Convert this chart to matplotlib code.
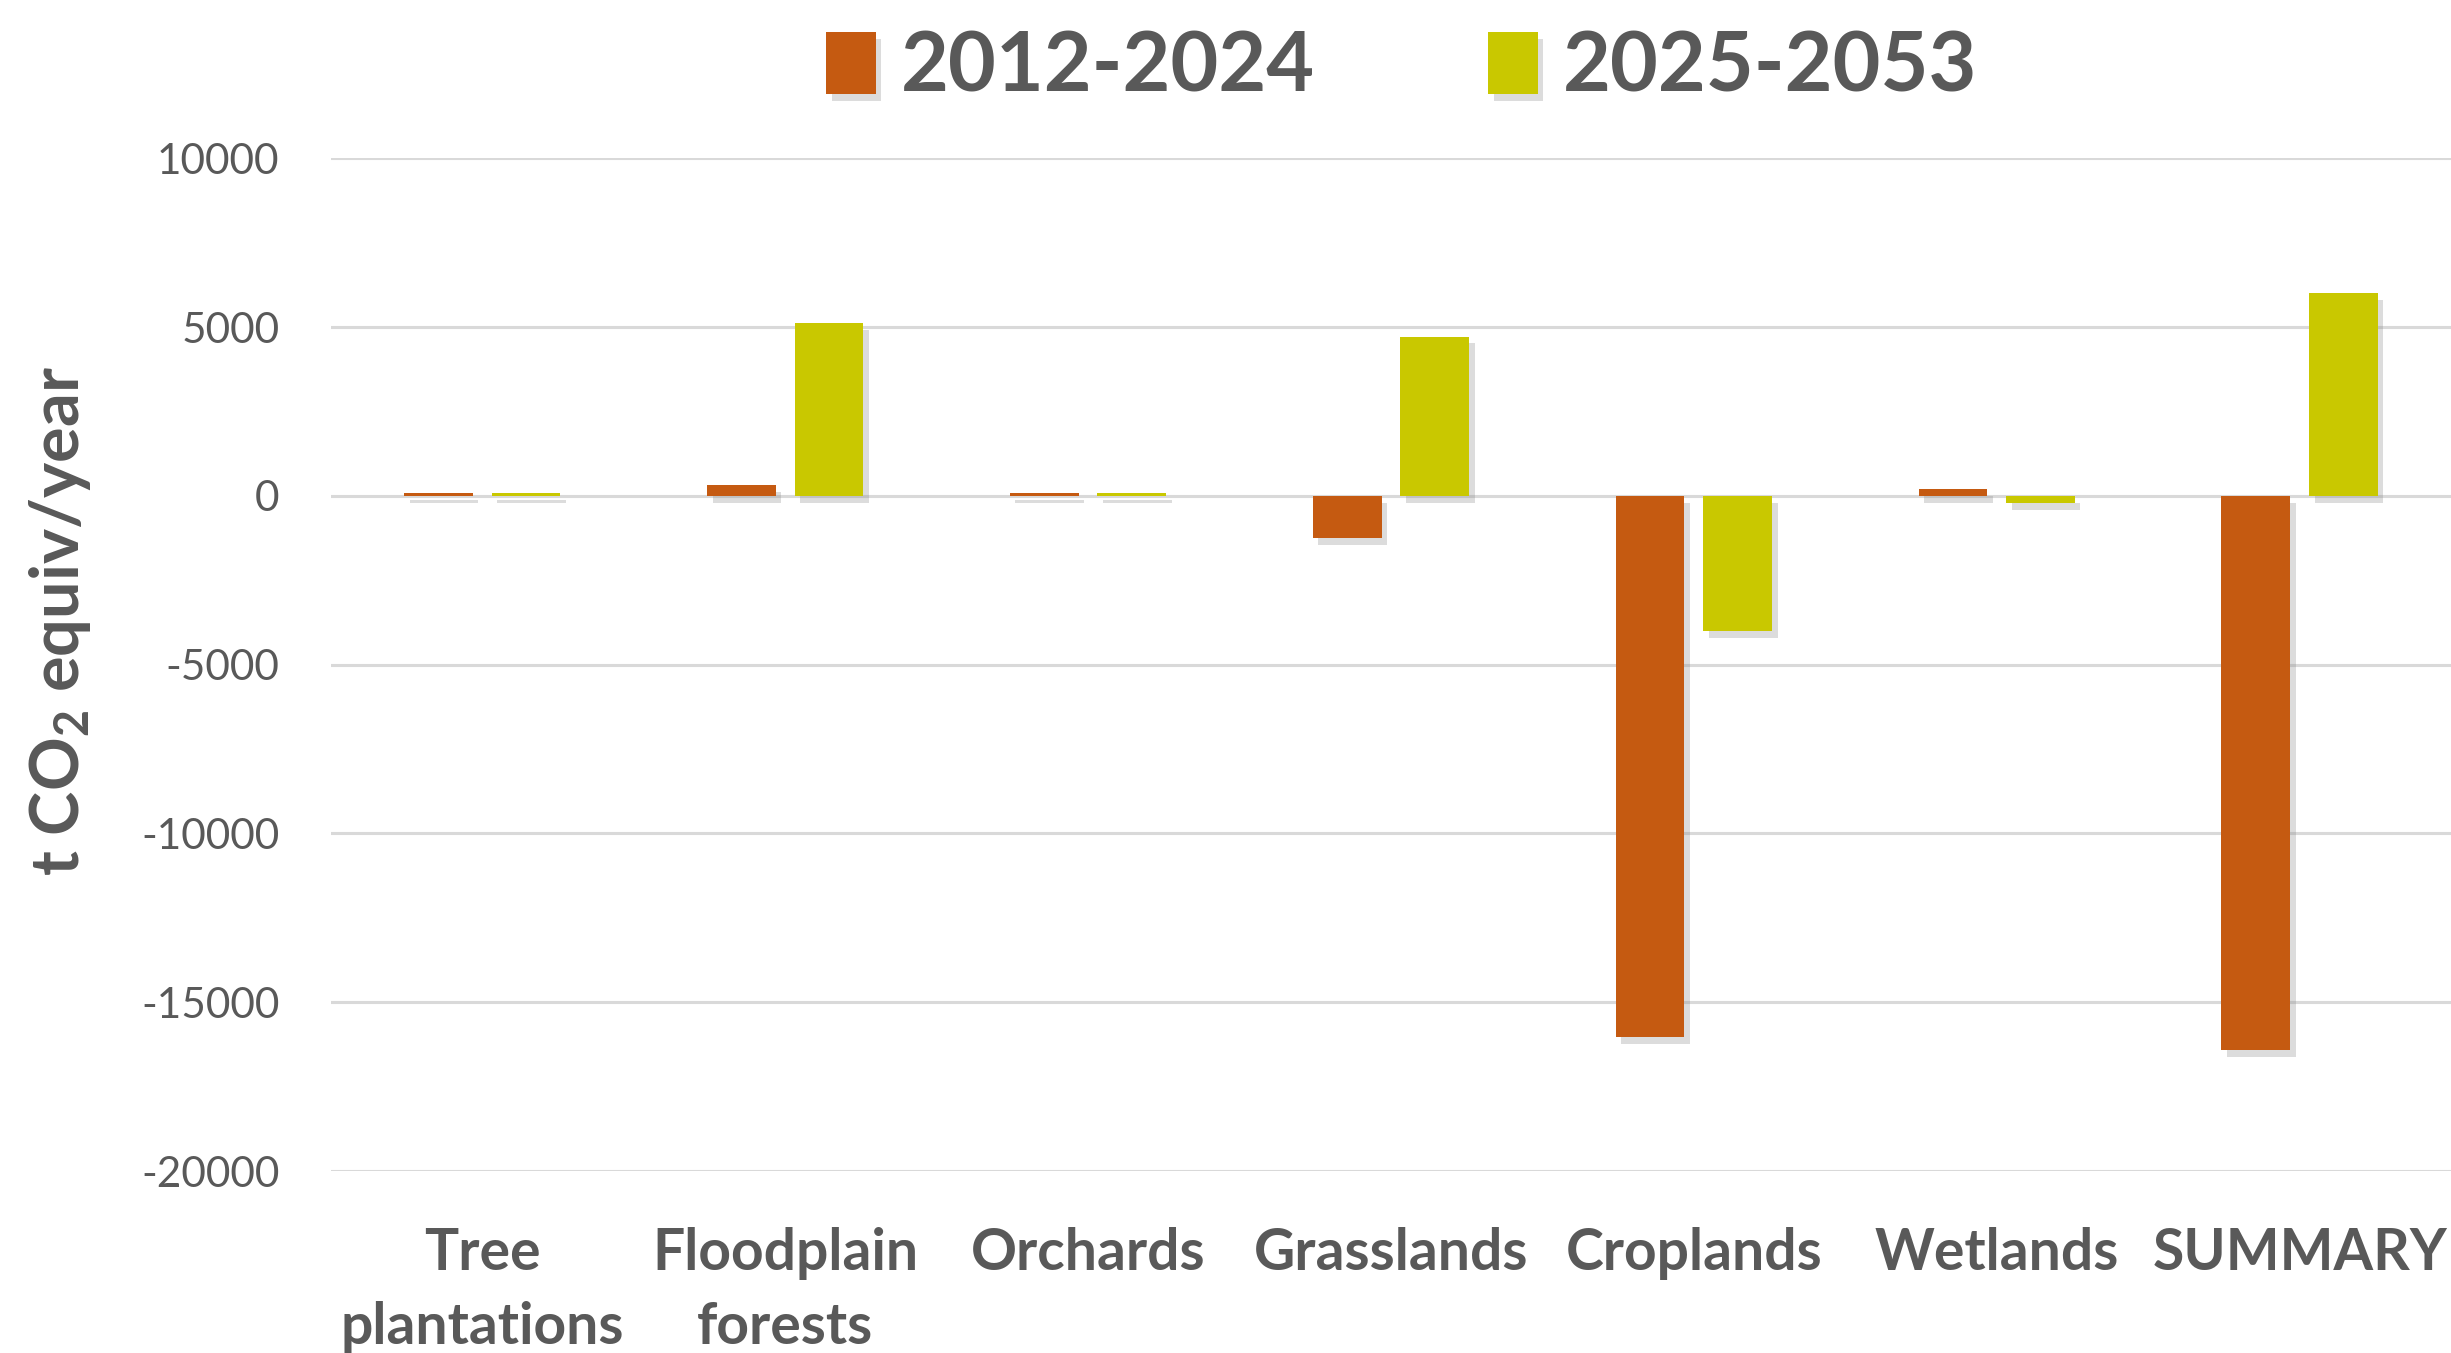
import numpy as np
import matplotlib
matplotlib.use("Agg")
import matplotlib.pyplot as plt
import matplotlib.patheffects as pe

plt.rcParams["font.family"] = ["Lato", "DejaVu Sans"]
plt.rcParams["mathtext.fontset"] = "custom"
plt.rcParams["mathtext.rm"] = "Lato:bold"
plt.rcParams["mathtext.default"] = "rm"

categories = ["Tree\nplantations", "Floodplain\nforests", "Orchards", "Grasslands",
              "Croplands", "Wetlands", "SUMMARY"]
series_names = ["2012-2024", "2025-2053"]
vals_2012_2024 = [80, 310, 80, -1240, -16020, 210, -16420]
vals_2025_2053 = [80, 5130, 80, 4720, -4000, -210, 6000]
y_ticks = [10000, 5000, 0, -5000, -10000, -15000, -20000]

ORANGE = "#C55A11"
GREEN = "#C9C800"
TEXT = "#595959"

fig = plt.figure(figsize=(24.51, 13.53), dpi=100)
ax = fig.add_axes([0.135, 0.1345, 0.865, 0.7485])

x = np.arange(len(categories))
w = 0.227
off = w / 2 + 0.031
# soft drop shadow like the office chart
shadow = [pe.SimplePatchShadow(offset=(4, -5), shadow_rgbFace="#8c8c8c", alpha=0.3), pe.Normal()]

b1 = ax.bar(x - off, vals_2012_2024, w, color=ORANGE, label=series_names[0], zorder=3)
b2 = ax.bar(x + off, vals_2025_2053, w, color=GREEN, label=series_names[1], zorder=3)
for b in list(b1) + list(b2):
    b.set_path_effects(shadow)

ax.set_xlim(-0.5, len(categories) - 0.5)
ax.set_ylim(-20000, 10000)
ax.set_yticks(y_ticks)
ax.set_yticklabels([str(t) for t in y_ticks])
ax.yaxis.grid(True, color="#D9D9D9", linewidth=2.2, zorder=0)
ax.set_axisbelow(True)
for s in ax.spines.values():
    s.set_visible(False)
ax.tick_params(axis="y", length=0, pad=37, labelsize=30.5, labelcolor=TEXT)
ax.set_xticks(x)
ax.set_xticklabels(categories, fontsize=41, fontweight="bold", color=TEXT, linespacing=1.5)
ax.tick_params(axis="x", length=0, pad=40)

fig.text(0.0245, 1 - 621 / 1353, r"t CO$_2$ equiv/year", rotation=90, fontsize=48,
         fontweight="bold", color=TEXT, ha="center", va="center")

leg = ax.legend(loc="center", bbox_to_anchor=(0.505, 1.089), ncol=2, frameon=False,
                fontsize=59.5, handlelength=0.6, handleheight=0.77, handletextpad=0.3,
                columnspacing=2.1)
for t in leg.get_texts():
    t.set_color(TEXT)
    t.set_fontweight("bold")

fig.savefig("out.png", dpi=100, facecolor="white")
